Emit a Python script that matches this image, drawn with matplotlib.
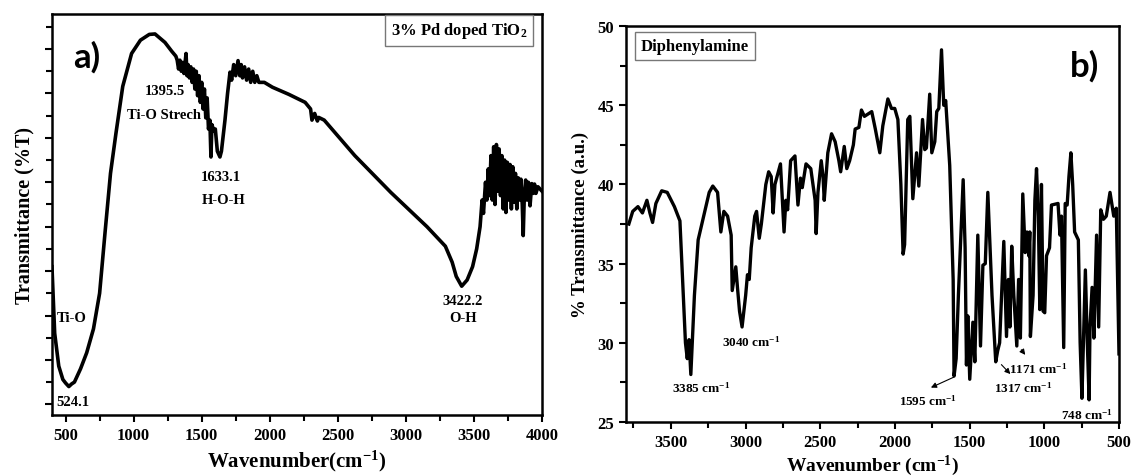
import matplotlib
matplotlib.use("Agg")
import matplotlib.pyplot as plt
from matplotlib.ticker import MultipleLocator

plt.rcParams['font.family'] = ['Liberation Serif', 'DejaVu Serif']
plt.rcParams['font.weight'] = 'bold'
plt.rcParams['mathtext.fontset'] = 'custom'
plt.rcParams['mathtext.rm'] = 'Liberation Serif:bold'
plt.rcParams['mathtext.bf'] = 'Liberation Serif:bold'
plt.rcParams['mathtext.default'] = 'bf'

# ---- panel a) 3% Pd doped TiO2 (arbitrary transmittance units) ----
wn_a = [400, 410, 420, 450, 480, 500, 524, 545, 565, 610, 655, 705, 750, 790, 830, 870,
        920, 985, 1050, 1115, 1157, 1230, 1280, 1310,
        1320, 1330, 1340, 1350, 1360, 1370, 1385, 1392, 1400, 1410, 1420, 1430, 1440, 1450,
        1460, 1470, 1480, 1490, 1500, 1510, 1520, 1530, 1540, 1550, 1560, 1568, 1575, 1590,
        1600, 1615, 1634, 1645, 1660, 1671, 1690, 1708, 1720, 1735, 1750, 1767, 1780, 1790,
        1800, 1815, 1830, 1845, 1860, 1875, 1890, 1905, 1920, 1960, 2020, 2140,
        2260, 2300, 2310, 2330, 2350, 2360, 2400, 2625, 2890, 3155, 3290, 3340, 3370, 3410,
        3450, 3490, 3520, 3545, 3560, 3570, 3585, 3595, 3605, 3615, 3625, 3635, 3645, 3655,
        3665, 3675, 3685, 3695, 3705, 3715, 3725, 3735, 3745, 3755, 3765, 3775, 3785, 3795,
        3805, 3815, 3825, 3835, 3845, 3855, 3862, 3870, 3880, 3890, 3900, 3912, 3925, 3935,
        3945, 3955, 3970, 3985, 4000]
t_a = [31, 23.6, 16, 8.6, 5.6, 4.8, 4, 4.6, 5, 8, 11.6, 17, 25, 38.7, 52, 61,
       71.6, 79, 82, 83.3, 83.4, 81.5, 79.5, 78.4,
       77.5, 75.5, 77.5, 75, 77, 74.5, 79, 74, 76.5, 73.5, 76, 72.5, 75.5, 71,
       75, 69.5, 74, 68, 72.5, 66.5, 71, 64.5, 69, 62, 64, 55.7, 63, 61.5,
       62, 57, 55.7, 57, 61, 64, 70, 74.8, 73, 76.5, 74, 77.4, 74, 76.5,
       73.5, 76, 73, 75.5, 72.5, 75, 72.5, 74, 72.5, 72.5, 71.4, 69.8,
       68, 66.5, 64, 65.5, 63.8, 64.6, 64, 56, 47.7, 40, 35.6, 32, 28.8, 26.6,
       28, 31, 35, 40, 46, 43, 50, 46, 53, 47, 56, 46, 58, 45,
       58.5, 48, 57.5, 47, 56, 44, 55, 43.2, 54.5, 46, 54, 44, 53.5, 45.5,
       52, 44, 51, 46, 50.7, 45, 38, 47, 50.5, 46, 50, 44.7, 49.7, 47.5,
       49.6, 47.5, 49, 48.5, 48]

# ---- panel b) Diphenylamine ----
wn_b = [3781, 3755, 3720, 3690, 3660, 3640, 3622, 3600, 3561, 3524, 3476, 3439, 3402, 3390,
        3378, 3366, 3342, 3317, 3280, 3243, 3219, 3187, 3165, 3145, 3120, 3096, 3089, 3065,
        3053, 3040, 3023, 2999, 2987, 2975, 2962, 2938, 2926, 2908, 2894, 2864, 2845, 2828,
        2815, 2803, 2766, 2742, 2730, 2718, 2698, 2669, 2649, 2632, 2620, 2595, 2563, 2534,
        2527, 2515, 2493, 2481, 2473, 2449, 2424, 2400, 2375, 2363, 2339, 2322, 2303, 2278,
        2266, 2241, 2224, 2204, 2155, 2131, 2101, 2081, 2047, 2023, 2001, 1980, 1960, 1945,
        1935, 1925, 1914, 1900, 1880, 1868, 1855, 1840, 1815, 1800, 1789, 1767, 1753, 1733,
        1720, 1706, 1688, 1673, 1660, 1633, 1610, 1604, 1590, 1575, 1543, 1530,
        1521, 1512, 1499, 1478, 1465, 1445, 1427, 1411, 1395, 1378, 1350, 1325, 1312, 1299,
        1271, 1253, 1240, 1230, 1218, 1204, 1184, 1172, 1160, 1144, 1128, 1116, 1104, 1097,
        1093, 1075, 1063, 1052, 1040, 1030, 1019, 1008, 997, 985, 965, 952, 908, 895,
        885, 870, 860, 847, 835, 822, 810, 797, 772, 760, 748, 738, 725, 712,
        700, 694, 680, 668, 650, 636, 622, 604, 585, 560, 535, 518, 500]
t_b = [37.5, 38.3, 38.6, 38.2, 39.0, 38.2, 37.6, 38.8, 39.6, 39.5, 38.6, 37.7, 30.0, 29.0,
       30.2, 28.0, 33.0, 36.5, 38.0, 39.5, 39.9, 39.5, 37.0, 38.3, 38.0, 36.8, 33.3, 34.8,
       33.4, 32.0, 31.0, 33.0, 34.3, 34.0, 36.0, 38.0, 38.3, 36.6, 37.5, 40.0, 40.8, 40.5,
       38.2, 40.0, 41.3, 37.0, 39.0, 38.4, 41.5, 41.8, 38.7, 40.4, 39.8, 41.3, 41.0, 39.0,
       36.9, 39.5, 41.5, 40.5, 39.0, 42.0, 43.2, 42.7, 41.5, 40.8, 42.4, 41.0, 41.5, 42.5,
       43.5, 43.6, 44.7, 44.3, 44.6, 43.5, 42.0, 43.7, 45.4, 44.8, 44.8, 44.1, 40.0, 35.6,
       36.2, 40.0, 44.1, 44.3, 39.1, 40.5, 42.0, 39.9, 44.1, 42.2, 42.3, 45.7, 42.0, 42.7,
       44.6, 44.8, 48.5, 45.0, 45.3, 41.2, 34.0, 27.9, 29.0, 33.0, 40.3, 36.0,
       28.6, 31.7, 27.7, 31.3, 28.8, 36.8, 29.8, 34.9, 35.0, 39.5, 33.0, 28.8, 29.5, 30.0,
       36.4, 30.4, 34.0, 31.0, 36.1, 33.0, 29.8, 34.0, 30.3, 39.4, 35.7, 37.0, 35.5, 37.0,
       30.4, 33.0, 39.0, 41.0, 38.0, 32.1, 40.0, 32.0, 31.9, 35.5, 36.0, 38.7, 38.8, 36.8,
       38.0, 29.7, 38.8, 38.7, 40.5, 42.0, 40.0, 37.0, 36.5, 30.0, 26.5, 30.0, 34.6, 30.0,
       26.4, 31.0, 33.5, 30.3, 36.8, 31.0, 38.4, 37.8, 38.0, 39.5, 38.0, 38.5, 29.3]

fig = plt.figure(figsize=(11.32, 4.77), dpi=100)
ax1 = fig.add_axes([0.0459, 0.127, 0.4329, 0.8416])
ax2 = fig.add_axes([0.553, 0.1132, 0.4355, 0.830])

for ax in (ax1, ax2):
    for s in ax.spines.values():
        s.set_linewidth(1.8)
    ax.tick_params(which='both', direction='out', width=1.5, labelsize=12,
                   top=False, right=False)
    ax.tick_params(which='major', length=5)
    ax.tick_params(which='minor', length=4)

# panel a
ax1.plot(wn_a, t_a, color='black', linewidth=2.6)
ax1.set_xlim(400, 4000)
ax1.set_ylim(-2.5, 87.9)
ax1.xaxis.set_major_locator(MultipleLocator(500))
ax1.xaxis.set_minor_locator(MultipleLocator(250))
ax1.yaxis.set_major_locator(MultipleLocator(10))
ax1.yaxis.set_minor_locator(MultipleLocator(5))
ax1.set_yticklabels([])
ax1.set_xlabel('Wavenumber(cm$^{-1}$)', fontsize=15, fontweight='bold', labelpad=3)
ax1.set_ylabel('Transmittance (%T)', fontsize=14.5, fontweight='bold', labelpad=4)
ax1.text(0.071, 0.894, 'a)', transform=ax1.transAxes, fontsize=25, fontweight='bold',
         family='Lato', ha='center', va='center')
ax1.text(0.831, 0.959, '3% Pd doped TiO$_2$', transform=ax1.transAxes, fontsize=12,
         fontweight='bold', ha='center', va='center',
         bbox=dict(boxstyle='square,pad=0.35', fc='white', ec='#777777', lw=1))
ann = dict(fontsize=10.5, fontweight='bold')
ax1.text(1375, 70.6, '1395.5', ha='right', va='center', **ann)
ax1.text(948, 65.3, 'Ti-O Strech', ha='left', va='center', **ann)
ax1.text(1644, 51.4, '1633.1', ha='center', va='center', **ann)
ax1.text(1661, 46.2, 'H-O-H', ha='center', va='center', **ann)
ax1.text(3417, 23.3, '3422.2', ha='center', va='center', **ann)
ax1.text(3420, 19.6, 'O-H', ha='center', va='center', **ann)
ax1.text(437, 19.6, 'Ti-O', ha='left', va='center', **ann)
ax1.text(432, 0.7, '524.1', ha='left', va='center', **ann)

# panel b
ax2.plot(wn_b, t_b, color='black', linewidth=2.4)
ax2.set_xlim(3800, 500)
ax2.set_ylim(25, 50)
ax2.xaxis.set_major_locator(MultipleLocator(500))
ax2.xaxis.set_minor_locator(MultipleLocator(250))
ax2.yaxis.set_major_locator(MultipleLocator(5))
ax2.yaxis.set_minor_locator(MultipleLocator(2.5))
ax2.set_xlabel('Wavenumber (cm$^{-1}$)', fontsize=14, fontweight='bold', labelpad=2)
ax2.set_ylabel('% Transmittance (a.u.)', fontsize=13.5, fontweight='bold', labelpad=6)
ax2.text(0.93, 0.90, 'b)', transform=ax2.transAxes, fontsize=25, fontweight='bold',
         family='Lato', ha='center', va='center')
ax2.text(0.14, 0.949, 'Diphenylamine', transform=ax2.transAxes, fontsize=12,
         fontweight='bold', ha='center', va='center',
         bbox=dict(boxstyle='square,pad=0.35', fc='white', ec='#777777', lw=1))
ann2 = dict(fontsize=9.5, fontweight='bold', ha='center', va='center')
ax2.text(3300, 27.2, '3385 cm$^{-1}$', **ann2)
ax2.text(2962, 30.1, '3040 cm$^{-1}$', **ann2)
ax2.text(1776, 26.4, '1595 cm$^{-1}$', **ann2)
ax2.text(1140, 27.2, '1317 cm$^{-1}$', **ann2)
ax2.text(1043, 28.4, '1171 cm$^{-1}$', **ann2)
ax2.text(713, 25.5, '748 cm$^{-1}$', **ann2)
arr = dict(arrowstyle='-|>', color='black', lw=0.8, mutation_scale=8)
ax2.annotate('', xy=(1776, 27.1), xytext=(1590, 27.9), arrowprops=arr)
ax2.annotate('', xy=(1214, 27.9), xytext=(1300, 28.75), arrowprops=arr)
ax2.annotate('', xy=(1116, 29.1), xytext=(1165, 29.7), arrowprops=arr)

fig.savefig('out.png', dpi=100)
